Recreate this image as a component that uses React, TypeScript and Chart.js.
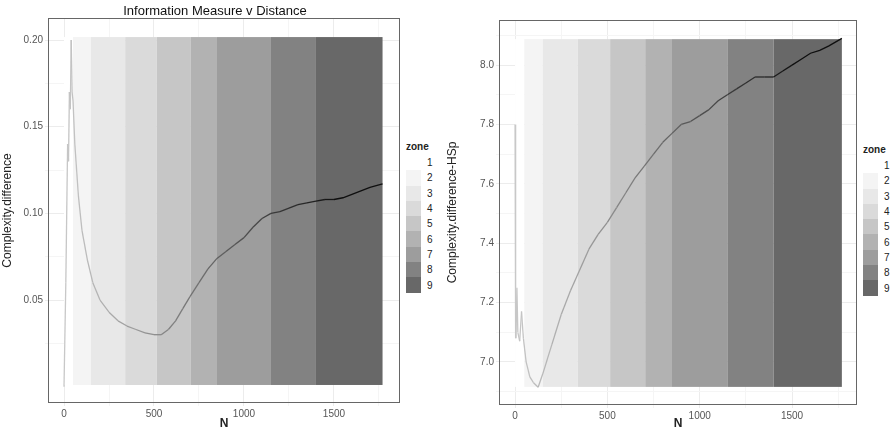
import { useRef, useEffect } from "react"
import { Chart, registerables, type Plugin } from "chart.js"

Chart.register(...registerables)

// zone boundaries along N (zone i spans zoneEdges[i]..zoneEdges[i+1])
const zoneEdges = [0, 50, 150, 340, 515, 705, 850, 1150, 1400, 1770]
const zoneLabels = ["1", "2", "3", "4", "5", "6", "7", "8", "9"]
const zoneColors = ["#ffffff", "#f4f4f4", "#e8e8e8", "#dadada", "#c6c6c6", "#b2b2b2", "#9d9d9d", "#828282", "#686868"]

const leftN = [0, 10, 20, 25, 30, 35, 40, 45, 50, 60, 80, 100, 130, 160, 200, 250, 300, 350, 400, 450, 500, 540, 580, 620, 660, 700, 750, 800, 850, 900, 950, 1000, 1050, 1100, 1150, 1200, 1250, 1300, 1350, 1400, 1450, 1500, 1550, 1600, 1650, 1700, 1770]
const leftValues = [0.0, 0.06, 0.14, 0.13, 0.17, 0.16, 0.2, 0.17, 0.165, 0.14, 0.11, 0.09, 0.073, 0.06, 0.05, 0.043, 0.038, 0.035, 0.033, 0.031, 0.03, 0.03, 0.033, 0.038, 0.045, 0.052, 0.06, 0.068, 0.074, 0.078, 0.082, 0.086, 0.092, 0.097, 0.1, 0.101, 0.103, 0.105, 0.106, 0.107, 0.108, 0.108, 0.109, 0.111, 0.113, 0.115, 0.117]

const rightN = [0, 1, 5, 10, 15, 25, 35, 45, 60, 80, 100, 125, 150, 200, 250, 300, 350, 400, 450, 500, 550, 600, 650, 700, 750, 800, 850, 900, 950, 1000, 1050, 1100, 1150, 1200, 1250, 1300, 1350, 1400, 1450, 1500, 1550, 1600, 1650, 1700, 1770]
const rightValues = [7.8, 7.45, 7.08, 7.25, 7.1, 7.07, 7.17, 7.08, 7.0, 6.95, 6.93, 6.915, 6.96, 7.06, 7.16, 7.24, 7.31, 7.38, 7.43, 7.47, 7.52, 7.57, 7.62, 7.66, 7.7, 7.74, 7.77, 7.8, 7.81, 7.83, 7.85, 7.88, 7.9, 7.92, 7.94, 7.96, 7.96, 7.96, 7.98, 8.0, 8.02, 8.04, 8.05, 8.065, 8.09]

const xTicks = [-0, 250, 500, 750, 1000, 1250, 1500, 1750]

const lineShade = (n: number) => {
  const t = Math.min(1, Math.max(0, n / 1500))
  const v = Math.round(200 - t * 185)
  return `rgb(${v},${v},${v})`
}

const zonesPlugin = (yTop: number, yBottom: number): Plugin => ({
  id: "zones",
  beforeDatasetsDraw(chart) {
    const { ctx, scales } = chart
    const x = scales.x
    const y = scales.y
    const t = y.getPixelForValue(yTop)
    const b = y.getPixelForValue(yBottom)
    ctx.save()
    zoneColors.forEach((c, i) => {
      const l = x.getPixelForValue(zoneEdges[i])
      const r = x.getPixelForValue(zoneEdges[i + 1])
      ctx.fillStyle = c
      ctx.fillRect(l, t, r - l, b - t)
    })
    ctx.restore()
  },
  afterDraw(chart) {
    const { ctx, chartArea } = chart
    ctx.save()
    ctx.strokeStyle = "#666"
    ctx.lineWidth = 1
    ctx.strokeRect(chartArea.left + 0.5, chartArea.top + 0.5, chartArea.width - 1, chartArea.height - 1)
    ctx.restore()
  },
})

interface PanelProps {
  n: number[]
  values: number[]
  yTitle: string
  xMin: number
  xMax: number
  yMin: number
  yMax: number
  yMajor: number[]
  yMinor: number[]
  yDigits: number
  bandTop: number
  bandBottom: number
  yAxisWidth: number
  padTop: number
  xAxisHeight: number
  width: number
}

function Panel(p: PanelProps) {
  const canvasRef = useRef<HTMLCanvasElement>(null)
  const chartRef = useRef<Chart | null>(null)

  useEffect(() => {
    if (!canvasRef.current) return
    if (chartRef.current) chartRef.current.destroy()
    const yAll = [...p.yMajor, ...p.yMinor].sort((a, b) => a - b)
    chartRef.current = new Chart(canvasRef.current, {
      type: "line",
      data: {
        datasets: [
          {
            data: p.n.map((x, i) => ({ x, y: p.values[i] })),
            borderWidth: 1.3,
            pointRadius: 0,
            borderColor: "#bbb",
            segment: { borderColor: (c: any) => lineShade(c.p0.parsed.x) },
          },
        ],
      },
      options: {
        animation: false,
        responsive: false,
        layout: { padding: { top: p.padTop, right: 2, left: 0, bottom: 0 } },
        plugins: { legend: { display: false }, tooltip: { enabled: false } },
        scales: {
          x: {
            type: "linear",
            min: p.xMin,
            max: p.xMax,
            afterBuildTicks: (s) => { s.ticks = xTicks.map((v) => ({ value: v })) },
            afterFit: (s) => { s.height = p.xAxisHeight },
            border: { display: false },
            grid: {
              color: (c) => (c.tick && c.tick.value % 500 === 0 ? "#ececec" : "#f5f5f5"),
              tickLength: 3,
            },
            ticks: {
              color: "#555",
              font: { size: 10, family: "Liberation Sans" },
              padding: 2,
              maxRotation: 0,
              callback: (v) => (Number(v) % 500 === 0 ? String(Math.abs(Number(v))) : ""),
            },
            title: { display: true, text: "N", color: "#222", font: { size: 12, weight: "bold", family: "Liberation Sans" }, padding: 0 },
          },
          y: {
            type: "linear",
            min: p.yMin,
            max: p.yMax,
            afterBuildTicks: (s) => { s.ticks = yAll.map((v) => ({ value: v })) },
            afterFit: (s) => { s.width = p.yAxisWidth },
            border: { display: false },
            grid: {
              color: (c) => (c.tick && p.yMajor.some((m) => Math.abs(m - c.tick.value) < 1e-9) ? "#ececec" : "#f5f5f5"),
              tickLength: 3,
            },
            ticks: {
              color: "#555",
              font: { size: 10, family: "Liberation Sans" },
              padding: 2,
              callback: (v) => (p.yMajor.some((m) => Math.abs(m - Number(v)) < 1e-9) ? Number(v).toFixed(p.yDigits) : ""),
            },
            title: { display: true, text: p.yTitle, color: "#222", font: { size: 12, family: "Liberation Sans" }, padding: 0 },
          },
        },
      },
      plugins: [zonesPlugin(p.bandTop, p.bandBottom)],
    })
    return () => {
      if (chartRef.current) chartRef.current.destroy()
    }
  }, [])

  return <canvas ref={canvasRef} width={p.width} height={431} style={{ width: p.width, height: 431, display: "block" }} />
}

function Legend({ left, top }: { left: number; top: number }) {
  return (
    <div style={{ position: "absolute", left, top, fontFamily: "Liberation Sans", color: "#222" }}>
      <div style={{ fontSize: 10, fontWeight: "bold", height: 14 }}>zone</div>
      {zoneLabels.map((z, i) => (
        <div key={z} style={{ display: "flex", alignItems: "center", height: 15.3 }}>
          <div style={{ width: 15, height: 15.3, background: zoneColors[i] }} />
          <span style={{ fontSize: 10, marginLeft: 6 }}>{z}</span>
        </div>
      ))}
    </div>
  )
}

export default function App() {
  return (
    <div style={{ position: "fixed", left: 0, top: 0, width: 890, height: 431, background: "#fff", overflow: "hidden" }}>
      <div style={{ position: "absolute", left: 0, top: 0 }}>
        <Panel n={leftN} values={leftValues} yTitle="Complexity.difference" xMin={-89} xMax={1867} yMin={-0.0094} yMax={0.2127}
          yMajor={[0.05, 0.1, 0.15, 0.2]} yMinor={[0.025, 0.075, 0.125, 0.175]} yDigits={2}
          bandTop={0.2017} bandBottom={0.001} yAxisWidth={48} padTop={18} xAxisHeight={28} width={402} />
      </div>
      <div style={{ position: "absolute", left: 0, top: 3, width: 430, textAlign: "center", fontFamily: "Liberation Sans", fontSize: 13, color: "#111" }}>
        Information Measure v Distance
      </div>
      <Legend left={406} top={141} />
      <div style={{ position: "absolute", left: 445, top: 0 }}>
        <Panel n={rightN} values={rightValues} yTitle="Complexity.difference-HSp" xMin={-87} xMax={1852} yMin={6.855} yMax={8.152}
          yMajor={[7.0, 7.2, 7.4, 7.6, 7.8, 8.0]} yMinor={[6.9, 7.1, 7.3, 7.5, 7.7, 7.9, 8.1]} yDigits={1}
          bandTop={8.0875} bandBottom={6.916} yAxisWidth={54} padTop={20} xAxisHeight={26} width={414} />
      </div>
      <Legend left={863} top={144} />
    </div>
  )
}
